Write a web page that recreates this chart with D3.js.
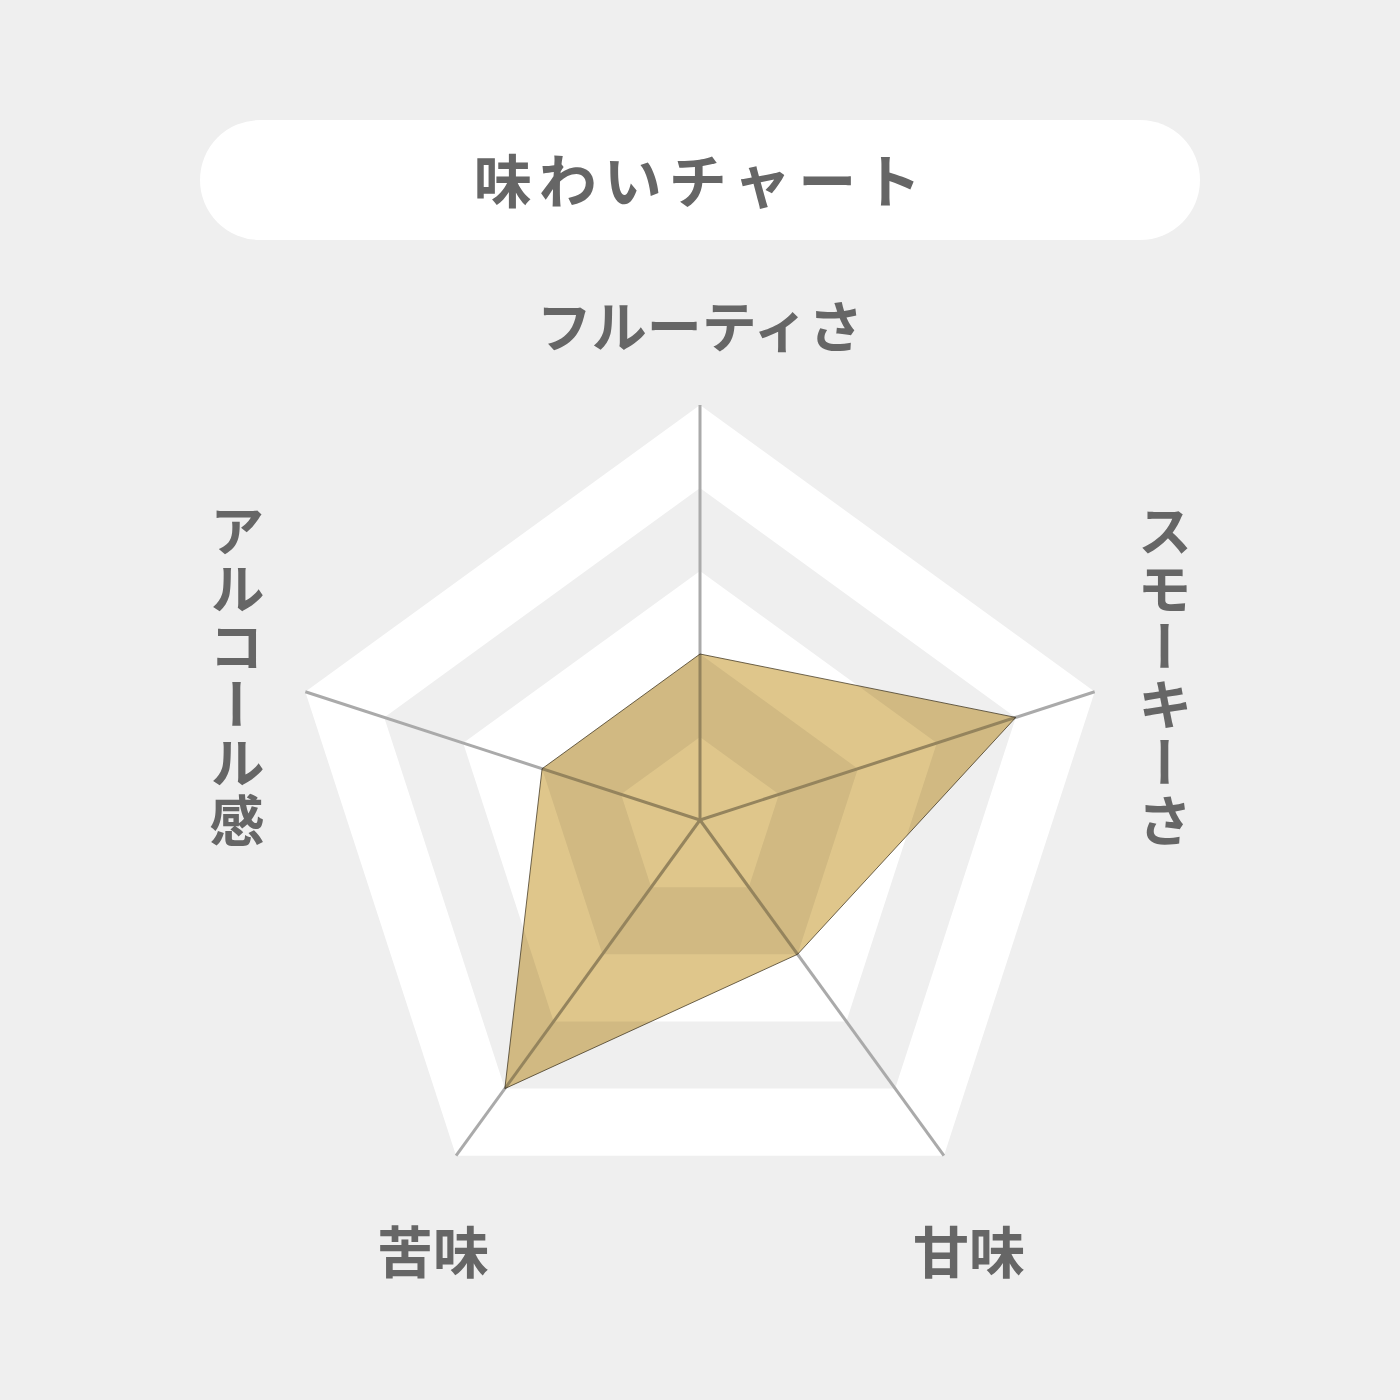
<!DOCTYPE html>
<html>
<head>
<meta charset="utf-8">
<script src="https://cdn.jsdelivr.net/npm/d3@7"></script>
<style>
  html, body { margin: 0; padding: 0; background: #efefef; }
  text { font-family: "Noto Sans CJK JP", "Noto Sans", sans-serif; font-weight: 700; fill: #666; }
</style>
</head>
<body>
<div id="chart"></div>
<script>
const title = "味わいチャート";
const axes = ["フルーティさ", "スモーキーさ", "甘味", "苦味", "アルコール感"];
const values = [2, 4, 2, 4, 2];
const levels = [1, 2, 3, 4, 5];
const maxLevel = 5;

const width = 1400, height = 1400;
const cx = 700, cy = 820, radius = 415;

const svg = d3.select("#chart").append("svg")
  .attr("width", width)
  .attr("height", height);

svg.append("rect")
  .attr("width", width).attr("height", height)
  .attr("fill", "#efefef");

// title pill
svg.append("rect")
  .attr("x", 200).attr("y", 120)
  .attr("width", 1000).attr("height", 120)
  .attr("rx", 60)
  .attr("fill", "#fff");

svg.append("text")
  .attr("x", 701).attr("y", 178)
  .attr("text-anchor", "middle")
  .attr("dominant-baseline", "central")
  .attr("font-size", 58)
  .attr("letter-spacing", 7)
  .text(title);

const r = d3.scaleLinear().domain([0, maxLevel]).range([0, radius]);
const angle = d3.scaleLinear().domain([0, axes.length]).range([0, 2 * Math.PI]);

const g = svg.append("g").attr("transform", `translate(${cx},${cy})`);

const point = (i, v) => {
  const a = angle(i);
  return [r(v) * Math.sin(a), -r(v) * Math.cos(a)];
};

// bands, largest first
g.selectAll(".band")
  .data(levels.slice().reverse())
  .join("polygon")
  .attr("class", "band")
  .attr("points", (lv) => axes.map((d, i) => point(i, lv).join(",")).join(" "))
  .attr("fill", (lv) => lv % 2 === 1 ? "#ffffff" : "#efefef");

// spokes
g.selectAll(".spoke")
  .data(axes)
  .join("line")
  .attr("class", "spoke")
  .attr("x1", 0).attr("y1", 0)
  .attr("x2", (d, i) => point(i, maxLevel)[0])
  .attr("y2", (d, i) => point(i, maxLevel)[1])
  .attr("stroke", "#aaaaaa")
  .attr("stroke-width", 3);

// data shape
g.append("polygon")
  .attr("points", values.map((v, i) => point(i, v).join(",")).join(" "))
  .attr("fill", "#dfc68b")
  .attr("stroke", "#4a3f28")
  .attr("stroke-width", 0.8)
  .style("mix-blend-mode", "multiply");

// labels
svg.append("text")
  .attr("x", 700).attr("y", 323)
  .attr("text-anchor", "middle")
  .attr("dominant-baseline", "central")
  .attr("font-size", 55)
  .attr("letter-spacing", 0)
  .text(axes[0]);

const vertical = [
  { text: axes[1], x: 1165 },
  { text: axes[4], x: 237 }
];
svg.selectAll(".vlabel")
  .data(vertical)
  .join("text")
  .attr("class", "vlabel")
  .attr("x", (d) => d.x)
  .attr("y", 503)
  .attr("font-size", 55)
  .attr("letter-spacing", 3)
  .style("writing-mode", "vertical-rl")
  .attr("text-anchor", "start")
  .text((d) => d.text);

const bottom = [
  { text: axes[3], x: 433 },
  { text: axes[2], x: 969 }
];
svg.selectAll(".blabel")
  .data(bottom)
  .join("text")
  .attr("class", "blabel")
  .attr("x", (d) => d.x)
  .attr("y", 1248)
  .attr("text-anchor", "middle")
  .attr("dominant-baseline", "central")
  .attr("font-size", 56)
  .text((d) => d.text);
</script>
</body>
</html>
